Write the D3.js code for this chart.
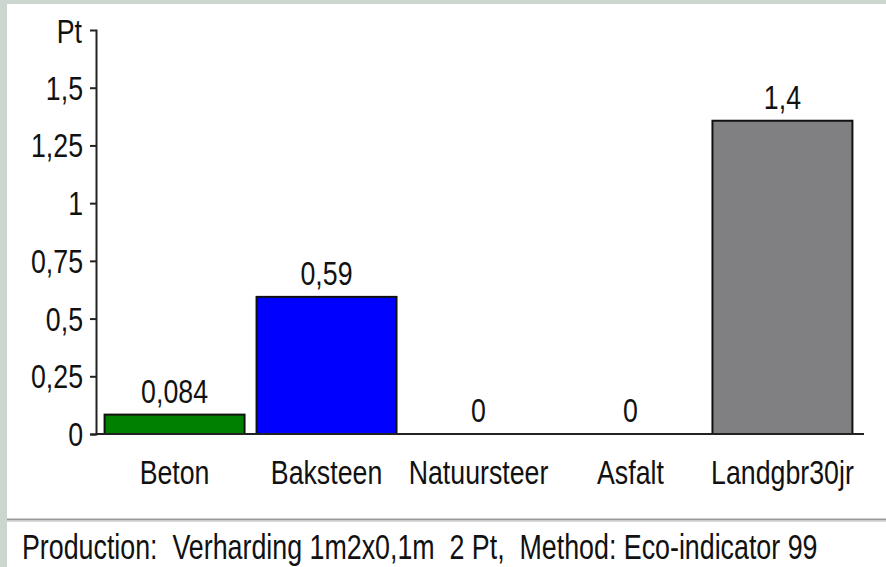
<!DOCTYPE html>
<html>
<head>
<meta charset="utf-8">
<script src="https://cdn.jsdelivr.net/npm/d3@7"></script>
<style>
  html, body { margin: 0; padding: 0; background: #ffffff; }
  svg { display: block; }
  text { font-family: "Liberation Sans", Arial, sans-serif; fill: #111; }
</style>
</head>
<body>
<svg id="chart" width="886" height="567"></svg>
<script>
// Eco-indicator 99 single score per paving material (Pt)
const categories = ["Beton", "Baksteen", "Natuursteer", "Asfalt", "Landgbr30jr"];
const values = [0.084, 0.594, 0, 0, 1.357];
const barColors = ["#008000", "#0000ff", "#808080", "#808080", "#807f82"];
const yTicks = [0, 0.25, 0.5, 0.75, 1, 1.25, 1.5];
const yUnit = "Pt";
const footerText = "Production:  Verharding 1m2x0,1m  2 Pt,  Method: Eco-indicator 99";

const W = 886, H = 567;
const svg = d3.select("#chart");

// Dutch number formatting (decimal comma)
const nl = d3.formatLocale({ decimal: ",", thousands: ".", grouping: [3], currency: ["€", ""] });
const fmtTick = nl.format("~g");
const fmtValue = nl.format(".2~r");

// condensed lettering: narrow each text run horizontally
function squeeze(sel, factor) {
  sel.each(function () {
    const len = this.getComputedTextLength();
    if (len > 0) {
      d3.select(this)
        .attr("textLength", len * factor)
        .attr("lengthAdjust", "spacingAndGlyphs");
    }
  });
}

// window frame
svg.append("rect").attr("x", 0).attr("y", 0).attr("width", W).attr("height", H).attr("fill", "#cdd5cf");
svg.append("rect").attr("x", 7).attr("y", 4).attr("width", W - 7).attr("height", H - 4).attr("fill", "#ffffff");

const axisX = 96, baseY = 434, topY = 30;

const x = d3.scaleBand()
  .domain(categories)
  .range([98.5, 858.5])
  .paddingInner(0.079)
  .paddingOuter(0.04);

const y = d3.scaleLinear().domain([0, 1.75]).range([baseY, topY]);

const fontSize = 33;
const narrow = 0.81;

// bars
svg.append("g").selectAll("rect")
  .data(categories)
  .join("rect")
  .attr("x", d => x(d))
  .attr("y", (d, i) => y(values[i]))
  .attr("width", x.bandwidth())
  .attr("height", (d, i) => baseY - y(values[i]))
  .attr("fill", (d, i) => barColors[i])
  .attr("stroke", "#111")
  .attr("stroke-width", 2)
  .attr("display", (d, i) => values[i] > 0 ? null : "none");

// value labels
svg.append("g").selectAll("text")
  .data(categories)
  .join("text")
  .attr("x", d => x(d) + x.bandwidth() / 2)
  .attr("y", (d, i) => y(values[i]) - 12)
  .attr("text-anchor", "middle")
  .attr("font-size", fontSize)
  .text((d, i) => fmtValue(values[i]))
  .call(squeeze, narrow);

// y axis
const yAxis = d3.axisLeft(y)
  .tickValues(yTicks)
  .tickSize(6)
  .tickPadding(7)
  .tickFormat(fmtTick);

const gy = svg.append("g").attr("transform", `translate(${axisX},0)`).call(yAxis);
gy.attr("font-family", null);
gy.select(".domain").attr("stroke", "#222").attr("stroke-width", 2);
gy.selectAll(".tick line").attr("stroke", "#222").attr("stroke-width", 2);
gy.selectAll(".tick text")
  .attr("font-size", fontSize)
  .attr("fill", "#111")
  .attr("dy", "0.35em")
  .call(squeeze, narrow);

// unit label
svg.append("text")
  .attr("x", 82)
  .attr("y", 43)
  .attr("text-anchor", "end")
  .attr("font-size", fontSize)
  .text(yUnit)
  .call(squeeze, narrow);

// x axis
const xAxis = d3.axisBottom(x).tickSize(0).tickPadding(27);
const gx = svg.append("g").attr("transform", `translate(0,${baseY})`).call(xAxis);
gx.attr("font-family", null);
gx.select(".domain").remove();
gx.selectAll(".tick text")
  .attr("font-size", fontSize)
  .attr("fill", "#111")
  .attr("dy", "0.71em")
  .call(squeeze, narrow);
gx.insert("line", ":first-child")
  .attr("x1", axisX).attr("x2", 864)
  .attr("y1", 0).attr("y2", 0)
  .attr("stroke", "#222").attr("stroke-width", 2);

// footer separator and caption
svg.append("line").attr("x1", 7).attr("x2", W).attr("y1", 519.5).attr("y2", 519.5)
  .attr("stroke", "#9a9a9a").attr("stroke-width", 2);
svg.append("line").attr("x1", 7).attr("x2", W).attr("y1", 521.5).attr("y2", 521.5)
  .attr("stroke", "#d8d8d8").attr("stroke-width", 1);

const footer = svg.append("text")
  .attr("x", 0)
  .attr("y", 0)
  .attr("font-size", 35)
  .style("white-space", "pre")
  .text(footerText);
const footerLen = footer.node().getComputedTextLength();
footer.attr("transform", `translate(22,559) scale(${796 / footerLen},1)`);
</script>
</body>
</html>
